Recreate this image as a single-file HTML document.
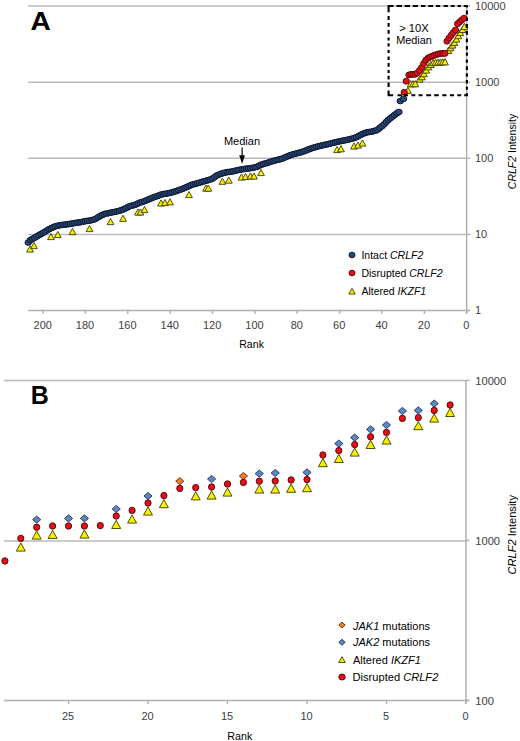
<!DOCTYPE html>
<html><head><meta charset="utf-8"><title>CRLF2 intensity rank plots</title>
<style>html,body{margin:0;padding:0;background:#fff;}svg{display:block;} text{font-family:"Liberation Sans",sans-serif;}</style>
</head><body>
<svg width="520" height="741" viewBox="0 0 520 741">
<rect x="0" y="0" width="520" height="741" fill="#fff"/>
<line x1="28.0" y1="6.1" x2="466.65" y2="6.1" stroke="#bababa" stroke-width="1.5"/>
<line x1="28.0" y1="82.2" x2="466.65" y2="82.2" stroke="#bababa" stroke-width="1.5"/>
<line x1="28.0" y1="158.3" x2="466.65" y2="158.3" stroke="#bababa" stroke-width="1.5"/>
<line x1="28.0" y1="234.4" x2="466.65" y2="234.4" stroke="#bababa" stroke-width="1.5"/>
<line x1="28.0" y1="310.5" x2="469.65" y2="310.5" stroke="#b0b0b0" stroke-width="1.5"/>
<line x1="466.65" y1="6.1" x2="466.65" y2="313.5" stroke="#b0b0b0" stroke-width="1.5"/>
<line x1="466.65" y1="6.1" x2="470.15" y2="6.1" stroke="#b0b0b0" stroke-width="1.4"/>
<text x="475" y="9.7" font-size="11" fill="#404040">10000</text>
<line x1="466.65" y1="82.2" x2="470.15" y2="82.2" stroke="#b0b0b0" stroke-width="1.4"/>
<text x="475" y="85.8" font-size="11" fill="#404040">1000</text>
<line x1="466.65" y1="158.3" x2="470.15" y2="158.3" stroke="#b0b0b0" stroke-width="1.4"/>
<text x="475" y="161.9" font-size="11" fill="#404040">100</text>
<line x1="466.65" y1="234.4" x2="470.15" y2="234.4" stroke="#b0b0b0" stroke-width="1.4"/>
<text x="475" y="238.0" font-size="11" fill="#404040">10</text>
<line x1="466.65" y1="310.5" x2="470.15" y2="310.5" stroke="#b0b0b0" stroke-width="1.4"/>
<text x="475" y="314.1" font-size="11" fill="#404040">1</text>
<line x1="466.6" y1="310.5" x2="466.6" y2="314.0" stroke="#b0b0b0" stroke-width="1.4"/>
<text x="466.2" y="328.8" font-size="11" fill="#404040" text-anchor="middle">0</text>
<line x1="424.3" y1="310.5" x2="424.3" y2="314.0" stroke="#b0b0b0" stroke-width="1.4"/>
<text x="423.9" y="328.8" font-size="11" fill="#404040" text-anchor="middle">20</text>
<line x1="381.9" y1="310.5" x2="381.9" y2="314.0" stroke="#b0b0b0" stroke-width="1.4"/>
<text x="381.5" y="328.8" font-size="11" fill="#404040" text-anchor="middle">40</text>
<line x1="339.6" y1="310.5" x2="339.6" y2="314.0" stroke="#b0b0b0" stroke-width="1.4"/>
<text x="339.2" y="328.8" font-size="11" fill="#404040" text-anchor="middle">60</text>
<line x1="297.2" y1="310.5" x2="297.2" y2="314.0" stroke="#b0b0b0" stroke-width="1.4"/>
<text x="296.8" y="328.8" font-size="11" fill="#404040" text-anchor="middle">80</text>
<line x1="254.9" y1="310.5" x2="254.9" y2="314.0" stroke="#b0b0b0" stroke-width="1.4"/>
<text x="254.5" y="328.8" font-size="11" fill="#404040" text-anchor="middle">100</text>
<line x1="212.5" y1="310.5" x2="212.5" y2="314.0" stroke="#b0b0b0" stroke-width="1.4"/>
<text x="212.1" y="328.8" font-size="11" fill="#404040" text-anchor="middle">120</text>
<line x1="170.2" y1="310.5" x2="170.2" y2="314.0" stroke="#b0b0b0" stroke-width="1.4"/>
<text x="169.8" y="328.8" font-size="11" fill="#404040" text-anchor="middle">140</text>
<line x1="127.8" y1="310.5" x2="127.8" y2="314.0" stroke="#b0b0b0" stroke-width="1.4"/>
<text x="127.4" y="328.8" font-size="11" fill="#404040" text-anchor="middle">160</text>
<line x1="85.4" y1="310.5" x2="85.4" y2="314.0" stroke="#b0b0b0" stroke-width="1.4"/>
<text x="85.0" y="328.8" font-size="11" fill="#404040" text-anchor="middle">180</text>
<line x1="43.1" y1="310.5" x2="43.1" y2="314.0" stroke="#b0b0b0" stroke-width="1.4"/>
<text x="42.7" y="328.8" font-size="11" fill="#404040" text-anchor="middle">200</text>
<text x="251.6" y="348.1" font-size="10.6" fill="#000" text-anchor="middle">Rank</text>
<text transform="translate(515.7,151.5) rotate(-90)" font-size="10.5" fill="#000" text-anchor="middle"><tspan font-style="italic">CRLF2</tspan> Intensity</text>
<text transform="translate(30.6,29.6) scale(1.1,1)" font-size="25.5" font-weight="bold" fill="#000">A</text>
<text x="242" y="144.5" font-size="11" fill="#000" text-anchor="middle">Median</text>
<line x1="242.1" y1="147.5" x2="242.1" y2="157" stroke="#000" stroke-width="1.2"/>
<path d="M239.2,155.2 L245,155.2 L242.1,163.8 Z" fill="#000"/>
<g>
<ellipse cx="28.3" cy="242.5" rx="3.3" ry="2.85" fill="#2b4a78" stroke="#0d1a33" stroke-width="1.0"/>
<ellipse cx="30.4" cy="240.1" rx="3.3" ry="2.85" fill="#2b4a78" stroke="#0d1a33" stroke-width="1.0"/>
<ellipse cx="32.5" cy="238.9" rx="3.3" ry="2.85" fill="#2b4a78" stroke="#0d1a33" stroke-width="1.0"/>
<ellipse cx="34.6" cy="237.7" rx="3.3" ry="2.85" fill="#2b4a78" stroke="#0d1a33" stroke-width="1.0"/>
<ellipse cx="36.7" cy="236.5" rx="3.3" ry="2.85" fill="#2b4a78" stroke="#0d1a33" stroke-width="1.0"/>
<ellipse cx="38.9" cy="235.2" rx="3.3" ry="2.85" fill="#2b4a78" stroke="#0d1a33" stroke-width="1.0"/>
<ellipse cx="41.0" cy="234.0" rx="3.3" ry="2.85" fill="#2b4a78" stroke="#0d1a33" stroke-width="1.0"/>
<ellipse cx="43.1" cy="232.8" rx="3.3" ry="2.85" fill="#2b4a78" stroke="#0d1a33" stroke-width="1.0"/>
<ellipse cx="45.2" cy="231.6" rx="3.3" ry="2.85" fill="#2b4a78" stroke="#0d1a33" stroke-width="1.0"/>
<ellipse cx="47.3" cy="230.3" rx="3.3" ry="2.85" fill="#2b4a78" stroke="#0d1a33" stroke-width="1.0"/>
<ellipse cx="49.4" cy="229.0" rx="3.3" ry="2.85" fill="#2b4a78" stroke="#0d1a33" stroke-width="1.0"/>
<ellipse cx="51.6" cy="228.0" rx="3.3" ry="2.85" fill="#2b4a78" stroke="#0d1a33" stroke-width="1.0"/>
<ellipse cx="53.7" cy="227.0" rx="3.3" ry="2.85" fill="#2b4a78" stroke="#0d1a33" stroke-width="1.0"/>
<ellipse cx="55.8" cy="226.2" rx="3.3" ry="2.85" fill="#2b4a78" stroke="#0d1a33" stroke-width="1.0"/>
<ellipse cx="57.9" cy="225.7" rx="3.3" ry="2.85" fill="#2b4a78" stroke="#0d1a33" stroke-width="1.0"/>
<ellipse cx="60.0" cy="225.2" rx="3.3" ry="2.85" fill="#2b4a78" stroke="#0d1a33" stroke-width="1.0"/>
<ellipse cx="62.2" cy="224.9" rx="3.3" ry="2.85" fill="#2b4a78" stroke="#0d1a33" stroke-width="1.0"/>
<ellipse cx="64.3" cy="224.7" rx="3.3" ry="2.85" fill="#2b4a78" stroke="#0d1a33" stroke-width="1.0"/>
<ellipse cx="66.4" cy="224.4" rx="3.3" ry="2.85" fill="#2b4a78" stroke="#0d1a33" stroke-width="1.0"/>
<ellipse cx="68.5" cy="224.1" rx="3.3" ry="2.85" fill="#2b4a78" stroke="#0d1a33" stroke-width="1.0"/>
<ellipse cx="70.6" cy="223.8" rx="3.3" ry="2.85" fill="#2b4a78" stroke="#0d1a33" stroke-width="1.0"/>
<ellipse cx="72.7" cy="223.4" rx="3.3" ry="2.85" fill="#2b4a78" stroke="#0d1a33" stroke-width="1.0"/>
<ellipse cx="74.9" cy="223.0" rx="3.3" ry="2.85" fill="#2b4a78" stroke="#0d1a33" stroke-width="1.0"/>
<ellipse cx="77.0" cy="222.7" rx="3.3" ry="2.85" fill="#2b4a78" stroke="#0d1a33" stroke-width="1.0"/>
<ellipse cx="79.1" cy="222.4" rx="3.3" ry="2.85" fill="#2b4a78" stroke="#0d1a33" stroke-width="1.0"/>
<ellipse cx="81.2" cy="222.1" rx="3.3" ry="2.85" fill="#2b4a78" stroke="#0d1a33" stroke-width="1.0"/>
<ellipse cx="83.3" cy="221.6" rx="3.3" ry="2.85" fill="#2b4a78" stroke="#0d1a33" stroke-width="1.0"/>
<ellipse cx="85.4" cy="221.2" rx="3.3" ry="2.85" fill="#2b4a78" stroke="#0d1a33" stroke-width="1.0"/>
<ellipse cx="87.6" cy="220.9" rx="3.3" ry="2.85" fill="#2b4a78" stroke="#0d1a33" stroke-width="1.0"/>
<ellipse cx="89.7" cy="220.6" rx="3.3" ry="2.85" fill="#2b4a78" stroke="#0d1a33" stroke-width="1.0"/>
<ellipse cx="91.8" cy="220.1" rx="3.3" ry="2.85" fill="#2b4a78" stroke="#0d1a33" stroke-width="1.0"/>
<ellipse cx="93.9" cy="219.6" rx="3.3" ry="2.85" fill="#2b4a78" stroke="#0d1a33" stroke-width="1.0"/>
<ellipse cx="96.0" cy="218.6" rx="3.3" ry="2.85" fill="#2b4a78" stroke="#0d1a33" stroke-width="1.0"/>
<ellipse cx="98.2" cy="217.2" rx="3.3" ry="2.85" fill="#2b4a78" stroke="#0d1a33" stroke-width="1.0"/>
<ellipse cx="100.3" cy="215.9" rx="3.3" ry="2.85" fill="#2b4a78" stroke="#0d1a33" stroke-width="1.0"/>
<ellipse cx="102.4" cy="214.9" rx="3.3" ry="2.85" fill="#2b4a78" stroke="#0d1a33" stroke-width="1.0"/>
<ellipse cx="104.5" cy="214.0" rx="3.3" ry="2.85" fill="#2b4a78" stroke="#0d1a33" stroke-width="1.0"/>
<ellipse cx="106.6" cy="213.5" rx="3.3" ry="2.85" fill="#2b4a78" stroke="#0d1a33" stroke-width="1.0"/>
<ellipse cx="108.7" cy="213.1" rx="3.3" ry="2.85" fill="#2b4a78" stroke="#0d1a33" stroke-width="1.0"/>
<ellipse cx="110.9" cy="212.6" rx="3.3" ry="2.85" fill="#2b4a78" stroke="#0d1a33" stroke-width="1.0"/>
<ellipse cx="113.0" cy="212.2" rx="3.3" ry="2.85" fill="#2b4a78" stroke="#0d1a33" stroke-width="1.0"/>
<ellipse cx="115.1" cy="211.8" rx="3.3" ry="2.85" fill="#2b4a78" stroke="#0d1a33" stroke-width="1.0"/>
<ellipse cx="117.2" cy="211.3" rx="3.3" ry="2.85" fill="#2b4a78" stroke="#0d1a33" stroke-width="1.0"/>
<ellipse cx="119.3" cy="210.8" rx="3.3" ry="2.85" fill="#2b4a78" stroke="#0d1a33" stroke-width="1.0"/>
<ellipse cx="121.4" cy="210.1" rx="3.3" ry="2.85" fill="#2b4a78" stroke="#0d1a33" stroke-width="1.0"/>
<ellipse cx="123.6" cy="209.3" rx="3.3" ry="2.85" fill="#2b4a78" stroke="#0d1a33" stroke-width="1.0"/>
<ellipse cx="125.7" cy="208.3" rx="3.3" ry="2.85" fill="#2b4a78" stroke="#0d1a33" stroke-width="1.0"/>
<ellipse cx="127.8" cy="207.2" rx="3.3" ry="2.85" fill="#2b4a78" stroke="#0d1a33" stroke-width="1.0"/>
<ellipse cx="129.9" cy="206.1" rx="3.3" ry="2.85" fill="#2b4a78" stroke="#0d1a33" stroke-width="1.0"/>
<ellipse cx="132.0" cy="205.6" rx="3.3" ry="2.85" fill="#2b4a78" stroke="#0d1a33" stroke-width="1.0"/>
<ellipse cx="134.2" cy="205.1" rx="3.3" ry="2.85" fill="#2b4a78" stroke="#0d1a33" stroke-width="1.0"/>
<ellipse cx="136.3" cy="204.3" rx="3.3" ry="2.85" fill="#2b4a78" stroke="#0d1a33" stroke-width="1.0"/>
<ellipse cx="138.4" cy="203.3" rx="3.3" ry="2.85" fill="#2b4a78" stroke="#0d1a33" stroke-width="1.0"/>
<ellipse cx="140.5" cy="202.4" rx="3.3" ry="2.85" fill="#2b4a78" stroke="#0d1a33" stroke-width="1.0"/>
<ellipse cx="142.6" cy="201.8" rx="3.3" ry="2.85" fill="#2b4a78" stroke="#0d1a33" stroke-width="1.0"/>
<ellipse cx="144.7" cy="201.1" rx="3.3" ry="2.85" fill="#2b4a78" stroke="#0d1a33" stroke-width="1.0"/>
<ellipse cx="146.9" cy="200.2" rx="3.3" ry="2.85" fill="#2b4a78" stroke="#0d1a33" stroke-width="1.0"/>
<ellipse cx="149.0" cy="199.2" rx="3.3" ry="2.85" fill="#2b4a78" stroke="#0d1a33" stroke-width="1.0"/>
<ellipse cx="151.1" cy="198.4" rx="3.3" ry="2.85" fill="#2b4a78" stroke="#0d1a33" stroke-width="1.0"/>
<ellipse cx="153.2" cy="197.5" rx="3.3" ry="2.85" fill="#2b4a78" stroke="#0d1a33" stroke-width="1.0"/>
<ellipse cx="155.3" cy="196.7" rx="3.3" ry="2.85" fill="#2b4a78" stroke="#0d1a33" stroke-width="1.0"/>
<ellipse cx="157.5" cy="196.0" rx="3.3" ry="2.85" fill="#2b4a78" stroke="#0d1a33" stroke-width="1.0"/>
<ellipse cx="159.6" cy="195.2" rx="3.3" ry="2.85" fill="#2b4a78" stroke="#0d1a33" stroke-width="1.0"/>
<ellipse cx="161.7" cy="194.4" rx="3.3" ry="2.85" fill="#2b4a78" stroke="#0d1a33" stroke-width="1.0"/>
<ellipse cx="163.8" cy="194.0" rx="3.3" ry="2.85" fill="#2b4a78" stroke="#0d1a33" stroke-width="1.0"/>
<ellipse cx="165.9" cy="193.7" rx="3.3" ry="2.85" fill="#2b4a78" stroke="#0d1a33" stroke-width="1.0"/>
<ellipse cx="168.0" cy="193.3" rx="3.3" ry="2.85" fill="#2b4a78" stroke="#0d1a33" stroke-width="1.0"/>
<ellipse cx="170.2" cy="192.8" rx="3.3" ry="2.85" fill="#2b4a78" stroke="#0d1a33" stroke-width="1.0"/>
<ellipse cx="172.3" cy="192.3" rx="3.3" ry="2.85" fill="#2b4a78" stroke="#0d1a33" stroke-width="1.0"/>
<ellipse cx="174.4" cy="191.6" rx="3.3" ry="2.85" fill="#2b4a78" stroke="#0d1a33" stroke-width="1.0"/>
<ellipse cx="176.5" cy="191.0" rx="3.3" ry="2.85" fill="#2b4a78" stroke="#0d1a33" stroke-width="1.0"/>
<ellipse cx="178.6" cy="190.2" rx="3.3" ry="2.85" fill="#2b4a78" stroke="#0d1a33" stroke-width="1.0"/>
<ellipse cx="180.7" cy="189.5" rx="3.3" ry="2.85" fill="#2b4a78" stroke="#0d1a33" stroke-width="1.0"/>
<ellipse cx="182.9" cy="188.7" rx="3.3" ry="2.85" fill="#2b4a78" stroke="#0d1a33" stroke-width="1.0"/>
<ellipse cx="185.0" cy="187.8" rx="3.3" ry="2.85" fill="#2b4a78" stroke="#0d1a33" stroke-width="1.0"/>
<ellipse cx="187.1" cy="186.9" rx="3.3" ry="2.85" fill="#2b4a78" stroke="#0d1a33" stroke-width="1.0"/>
<ellipse cx="189.2" cy="185.9" rx="3.3" ry="2.85" fill="#2b4a78" stroke="#0d1a33" stroke-width="1.0"/>
<ellipse cx="191.3" cy="185.0" rx="3.3" ry="2.85" fill="#2b4a78" stroke="#0d1a33" stroke-width="1.0"/>
<ellipse cx="193.5" cy="184.3" rx="3.3" ry="2.85" fill="#2b4a78" stroke="#0d1a33" stroke-width="1.0"/>
<ellipse cx="195.6" cy="183.8" rx="3.3" ry="2.85" fill="#2b4a78" stroke="#0d1a33" stroke-width="1.0"/>
<ellipse cx="197.7" cy="183.2" rx="3.3" ry="2.85" fill="#2b4a78" stroke="#0d1a33" stroke-width="1.0"/>
<ellipse cx="199.8" cy="182.6" rx="3.3" ry="2.85" fill="#2b4a78" stroke="#0d1a33" stroke-width="1.0"/>
<ellipse cx="201.9" cy="181.9" rx="3.3" ry="2.85" fill="#2b4a78" stroke="#0d1a33" stroke-width="1.0"/>
<ellipse cx="204.0" cy="181.3" rx="3.3" ry="2.85" fill="#2b4a78" stroke="#0d1a33" stroke-width="1.0"/>
<ellipse cx="206.2" cy="180.7" rx="3.3" ry="2.85" fill="#2b4a78" stroke="#0d1a33" stroke-width="1.0"/>
<ellipse cx="208.3" cy="180.1" rx="3.3" ry="2.85" fill="#2b4a78" stroke="#0d1a33" stroke-width="1.0"/>
<ellipse cx="210.4" cy="179.5" rx="3.3" ry="2.85" fill="#2b4a78" stroke="#0d1a33" stroke-width="1.0"/>
<ellipse cx="212.5" cy="178.6" rx="3.3" ry="2.85" fill="#2b4a78" stroke="#0d1a33" stroke-width="1.0"/>
<ellipse cx="214.6" cy="177.1" rx="3.3" ry="2.85" fill="#2b4a78" stroke="#0d1a33" stroke-width="1.0"/>
<ellipse cx="216.7" cy="175.5" rx="3.3" ry="2.85" fill="#2b4a78" stroke="#0d1a33" stroke-width="1.0"/>
<ellipse cx="218.9" cy="174.6" rx="3.3" ry="2.85" fill="#2b4a78" stroke="#0d1a33" stroke-width="1.0"/>
<ellipse cx="221.0" cy="173.8" rx="3.3" ry="2.85" fill="#2b4a78" stroke="#0d1a33" stroke-width="1.0"/>
<ellipse cx="223.1" cy="173.1" rx="3.3" ry="2.85" fill="#2b4a78" stroke="#0d1a33" stroke-width="1.0"/>
<ellipse cx="225.2" cy="172.6" rx="3.3" ry="2.85" fill="#2b4a78" stroke="#0d1a33" stroke-width="1.0"/>
<ellipse cx="227.3" cy="172.1" rx="3.3" ry="2.85" fill="#2b4a78" stroke="#0d1a33" stroke-width="1.0"/>
<ellipse cx="229.5" cy="171.9" rx="3.3" ry="2.85" fill="#2b4a78" stroke="#0d1a33" stroke-width="1.0"/>
<ellipse cx="231.6" cy="171.6" rx="3.3" ry="2.85" fill="#2b4a78" stroke="#0d1a33" stroke-width="1.0"/>
<ellipse cx="233.7" cy="171.2" rx="3.3" ry="2.85" fill="#2b4a78" stroke="#0d1a33" stroke-width="1.0"/>
<ellipse cx="235.8" cy="170.6" rx="3.3" ry="2.85" fill="#2b4a78" stroke="#0d1a33" stroke-width="1.0"/>
<ellipse cx="237.9" cy="170.1" rx="3.3" ry="2.85" fill="#2b4a78" stroke="#0d1a33" stroke-width="1.0"/>
<ellipse cx="240.0" cy="169.7" rx="3.3" ry="2.85" fill="#2b4a78" stroke="#0d1a33" stroke-width="1.0"/>
<ellipse cx="242.2" cy="169.3" rx="3.3" ry="2.85" fill="#2b4a78" stroke="#0d1a33" stroke-width="1.0"/>
<ellipse cx="244.3" cy="169.0" rx="3.3" ry="2.85" fill="#2b4a78" stroke="#0d1a33" stroke-width="1.0"/>
<ellipse cx="246.4" cy="168.7" rx="3.3" ry="2.85" fill="#2b4a78" stroke="#0d1a33" stroke-width="1.0"/>
<ellipse cx="248.5" cy="168.4" rx="3.3" ry="2.85" fill="#2b4a78" stroke="#0d1a33" stroke-width="1.0"/>
<ellipse cx="250.6" cy="168.2" rx="3.3" ry="2.85" fill="#2b4a78" stroke="#0d1a33" stroke-width="1.0"/>
<ellipse cx="252.8" cy="167.8" rx="3.3" ry="2.85" fill="#2b4a78" stroke="#0d1a33" stroke-width="1.0"/>
<ellipse cx="254.9" cy="167.3" rx="3.3" ry="2.85" fill="#2b4a78" stroke="#0d1a33" stroke-width="1.0"/>
<ellipse cx="257.0" cy="166.8" rx="3.3" ry="2.85" fill="#2b4a78" stroke="#0d1a33" stroke-width="1.0"/>
<ellipse cx="259.1" cy="165.7" rx="3.3" ry="2.85" fill="#2b4a78" stroke="#0d1a33" stroke-width="1.0"/>
<ellipse cx="261.2" cy="164.7" rx="3.3" ry="2.85" fill="#2b4a78" stroke="#0d1a33" stroke-width="1.0"/>
<ellipse cx="263.3" cy="164.0" rx="3.3" ry="2.85" fill="#2b4a78" stroke="#0d1a33" stroke-width="1.0"/>
<ellipse cx="265.5" cy="163.4" rx="3.3" ry="2.85" fill="#2b4a78" stroke="#0d1a33" stroke-width="1.0"/>
<ellipse cx="267.6" cy="162.8" rx="3.3" ry="2.85" fill="#2b4a78" stroke="#0d1a33" stroke-width="1.0"/>
<ellipse cx="269.7" cy="162.1" rx="3.3" ry="2.85" fill="#2b4a78" stroke="#0d1a33" stroke-width="1.0"/>
<ellipse cx="271.8" cy="161.4" rx="3.3" ry="2.85" fill="#2b4a78" stroke="#0d1a33" stroke-width="1.0"/>
<ellipse cx="273.9" cy="160.8" rx="3.3" ry="2.85" fill="#2b4a78" stroke="#0d1a33" stroke-width="1.0"/>
<ellipse cx="276.0" cy="160.2" rx="3.3" ry="2.85" fill="#2b4a78" stroke="#0d1a33" stroke-width="1.0"/>
<ellipse cx="278.2" cy="159.7" rx="3.3" ry="2.85" fill="#2b4a78" stroke="#0d1a33" stroke-width="1.0"/>
<ellipse cx="280.3" cy="159.2" rx="3.3" ry="2.85" fill="#2b4a78" stroke="#0d1a33" stroke-width="1.0"/>
<ellipse cx="282.4" cy="158.6" rx="3.3" ry="2.85" fill="#2b4a78" stroke="#0d1a33" stroke-width="1.0"/>
<ellipse cx="284.5" cy="157.6" rx="3.3" ry="2.85" fill="#2b4a78" stroke="#0d1a33" stroke-width="1.0"/>
<ellipse cx="286.6" cy="156.7" rx="3.3" ry="2.85" fill="#2b4a78" stroke="#0d1a33" stroke-width="1.0"/>
<ellipse cx="288.8" cy="155.8" rx="3.3" ry="2.85" fill="#2b4a78" stroke="#0d1a33" stroke-width="1.0"/>
<ellipse cx="290.9" cy="155.0" rx="3.3" ry="2.85" fill="#2b4a78" stroke="#0d1a33" stroke-width="1.0"/>
<ellipse cx="293.0" cy="154.3" rx="3.3" ry="2.85" fill="#2b4a78" stroke="#0d1a33" stroke-width="1.0"/>
<ellipse cx="295.1" cy="153.8" rx="3.3" ry="2.85" fill="#2b4a78" stroke="#0d1a33" stroke-width="1.0"/>
<ellipse cx="297.2" cy="153.2" rx="3.3" ry="2.85" fill="#2b4a78" stroke="#0d1a33" stroke-width="1.0"/>
<ellipse cx="299.3" cy="152.7" rx="3.3" ry="2.85" fill="#2b4a78" stroke="#0d1a33" stroke-width="1.0"/>
<ellipse cx="301.5" cy="152.1" rx="3.3" ry="2.85" fill="#2b4a78" stroke="#0d1a33" stroke-width="1.0"/>
<ellipse cx="303.6" cy="151.4" rx="3.3" ry="2.85" fill="#2b4a78" stroke="#0d1a33" stroke-width="1.0"/>
<ellipse cx="305.7" cy="150.5" rx="3.3" ry="2.85" fill="#2b4a78" stroke="#0d1a33" stroke-width="1.0"/>
<ellipse cx="307.8" cy="149.7" rx="3.3" ry="2.85" fill="#2b4a78" stroke="#0d1a33" stroke-width="1.0"/>
<ellipse cx="309.9" cy="148.9" rx="3.3" ry="2.85" fill="#2b4a78" stroke="#0d1a33" stroke-width="1.0"/>
<ellipse cx="312.1" cy="148.1" rx="3.3" ry="2.85" fill="#2b4a78" stroke="#0d1a33" stroke-width="1.0"/>
<ellipse cx="314.2" cy="147.5" rx="3.3" ry="2.85" fill="#2b4a78" stroke="#0d1a33" stroke-width="1.0"/>
<ellipse cx="316.3" cy="146.9" rx="3.3" ry="2.85" fill="#2b4a78" stroke="#0d1a33" stroke-width="1.0"/>
<ellipse cx="318.4" cy="146.3" rx="3.3" ry="2.85" fill="#2b4a78" stroke="#0d1a33" stroke-width="1.0"/>
<ellipse cx="320.5" cy="145.8" rx="3.3" ry="2.85" fill="#2b4a78" stroke="#0d1a33" stroke-width="1.0"/>
<ellipse cx="322.6" cy="145.3" rx="3.3" ry="2.85" fill="#2b4a78" stroke="#0d1a33" stroke-width="1.0"/>
<ellipse cx="324.8" cy="144.8" rx="3.3" ry="2.85" fill="#2b4a78" stroke="#0d1a33" stroke-width="1.0"/>
<ellipse cx="326.9" cy="144.4" rx="3.3" ry="2.85" fill="#2b4a78" stroke="#0d1a33" stroke-width="1.0"/>
<ellipse cx="329.0" cy="143.9" rx="3.3" ry="2.85" fill="#2b4a78" stroke="#0d1a33" stroke-width="1.0"/>
<ellipse cx="331.1" cy="143.3" rx="3.3" ry="2.85" fill="#2b4a78" stroke="#0d1a33" stroke-width="1.0"/>
<ellipse cx="333.2" cy="142.8" rx="3.3" ry="2.85" fill="#2b4a78" stroke="#0d1a33" stroke-width="1.0"/>
<ellipse cx="335.3" cy="142.3" rx="3.3" ry="2.85" fill="#2b4a78" stroke="#0d1a33" stroke-width="1.0"/>
<ellipse cx="337.5" cy="141.8" rx="3.3" ry="2.85" fill="#2b4a78" stroke="#0d1a33" stroke-width="1.0"/>
<ellipse cx="339.6" cy="141.3" rx="3.3" ry="2.85" fill="#2b4a78" stroke="#0d1a33" stroke-width="1.0"/>
<ellipse cx="341.7" cy="140.9" rx="3.3" ry="2.85" fill="#2b4a78" stroke="#0d1a33" stroke-width="1.0"/>
<ellipse cx="343.8" cy="140.5" rx="3.3" ry="2.85" fill="#2b4a78" stroke="#0d1a33" stroke-width="1.0"/>
<ellipse cx="345.9" cy="140.1" rx="3.3" ry="2.85" fill="#2b4a78" stroke="#0d1a33" stroke-width="1.0"/>
<ellipse cx="348.1" cy="139.6" rx="3.3" ry="2.85" fill="#2b4a78" stroke="#0d1a33" stroke-width="1.0"/>
<ellipse cx="350.2" cy="139.1" rx="3.3" ry="2.85" fill="#2b4a78" stroke="#0d1a33" stroke-width="1.0"/>
<ellipse cx="352.3" cy="138.6" rx="3.3" ry="2.85" fill="#2b4a78" stroke="#0d1a33" stroke-width="1.0"/>
<ellipse cx="354.4" cy="137.9" rx="3.3" ry="2.85" fill="#2b4a78" stroke="#0d1a33" stroke-width="1.0"/>
<ellipse cx="356.5" cy="137.2" rx="3.3" ry="2.85" fill="#2b4a78" stroke="#0d1a33" stroke-width="1.0"/>
<ellipse cx="358.6" cy="136.0" rx="3.3" ry="2.85" fill="#2b4a78" stroke="#0d1a33" stroke-width="1.0"/>
<ellipse cx="360.8" cy="134.8" rx="3.3" ry="2.85" fill="#2b4a78" stroke="#0d1a33" stroke-width="1.0"/>
<ellipse cx="362.9" cy="133.8" rx="3.3" ry="2.85" fill="#2b4a78" stroke="#0d1a33" stroke-width="1.0"/>
<ellipse cx="365.0" cy="133.0" rx="3.3" ry="2.85" fill="#2b4a78" stroke="#0d1a33" stroke-width="1.0"/>
<ellipse cx="367.1" cy="132.3" rx="3.3" ry="2.85" fill="#2b4a78" stroke="#0d1a33" stroke-width="1.0"/>
<ellipse cx="369.2" cy="132.0" rx="3.3" ry="2.85" fill="#2b4a78" stroke="#0d1a33" stroke-width="1.0"/>
<ellipse cx="371.3" cy="131.7" rx="3.3" ry="2.85" fill="#2b4a78" stroke="#0d1a33" stroke-width="1.0"/>
<ellipse cx="373.5" cy="131.2" rx="3.3" ry="2.85" fill="#2b4a78" stroke="#0d1a33" stroke-width="1.0"/>
<ellipse cx="375.6" cy="130.6" rx="3.3" ry="2.85" fill="#2b4a78" stroke="#0d1a33" stroke-width="1.0"/>
<ellipse cx="377.7" cy="129.6" rx="3.3" ry="2.85" fill="#2b4a78" stroke="#0d1a33" stroke-width="1.0"/>
<ellipse cx="379.8" cy="127.9" rx="3.3" ry="2.85" fill="#2b4a78" stroke="#0d1a33" stroke-width="1.0"/>
<ellipse cx="381.9" cy="126.2" rx="3.3" ry="2.85" fill="#2b4a78" stroke="#0d1a33" stroke-width="1.0"/>
<ellipse cx="384.1" cy="124.3" rx="3.3" ry="2.85" fill="#2b4a78" stroke="#0d1a33" stroke-width="1.0"/>
<ellipse cx="386.2" cy="122.0" rx="3.3" ry="2.85" fill="#2b4a78" stroke="#0d1a33" stroke-width="1.0"/>
<ellipse cx="388.3" cy="119.9" rx="3.3" ry="2.85" fill="#2b4a78" stroke="#0d1a33" stroke-width="1.0"/>
<ellipse cx="390.4" cy="118.2" rx="3.3" ry="2.85" fill="#2b4a78" stroke="#0d1a33" stroke-width="1.0"/>
<ellipse cx="392.5" cy="116.6" rx="3.3" ry="2.85" fill="#2b4a78" stroke="#0d1a33" stroke-width="1.0"/>
<ellipse cx="394.6" cy="115.0" rx="3.3" ry="2.85" fill="#2b4a78" stroke="#0d1a33" stroke-width="1.0"/>
<ellipse cx="396.8" cy="113.3" rx="3.3" ry="2.85" fill="#2b4a78" stroke="#0d1a33" stroke-width="1.0"/>
<ellipse cx="398.9" cy="112.0" rx="3.3" ry="2.85" fill="#2b4a78" stroke="#0d1a33" stroke-width="1.0"/>
<ellipse cx="400.3" cy="101.0" rx="3.3" ry="2.85" fill="#2b4a78" stroke="#0d1a33" stroke-width="1.0"/>
<ellipse cx="403.5" cy="98.8" rx="3.3" ry="2.85" fill="#2b4a78" stroke="#0d1a33" stroke-width="1.0"/>
</g>
<g>
<path d="M30.0,245.9 L33.4,252.1 L26.6,252.1 Z" fill="#f4f000" stroke="#3e3c00" stroke-width="0.9" stroke-linejoin="miter"/>
<path d="M34.0,242.4 L37.4,248.6 L30.6,248.6 Z" fill="#f4f000" stroke="#3e3c00" stroke-width="0.9" stroke-linejoin="miter"/>
<path d="M51.0,233.4 L54.4,239.6 L47.6,239.6 Z" fill="#f4f000" stroke="#3e3c00" stroke-width="0.9" stroke-linejoin="miter"/>
<path d="M57.8,231.4 L61.2,237.6 L54.4,237.6 Z" fill="#f4f000" stroke="#3e3c00" stroke-width="0.9" stroke-linejoin="miter"/>
<path d="M72.5,228.4 L75.9,234.6 L69.1,234.6 Z" fill="#f4f000" stroke="#3e3c00" stroke-width="0.9" stroke-linejoin="miter"/>
<path d="M89.5,225.4 L92.9,231.6 L86.1,231.6 Z" fill="#f4f000" stroke="#3e3c00" stroke-width="0.9" stroke-linejoin="miter"/>
<path d="M110.5,218.4 L113.9,224.6 L107.1,224.6 Z" fill="#f4f000" stroke="#3e3c00" stroke-width="0.9" stroke-linejoin="miter"/>
<path d="M123.0,215.2 L126.4,221.4 L119.6,221.4 Z" fill="#f4f000" stroke="#3e3c00" stroke-width="0.9" stroke-linejoin="miter"/>
<path d="M138.0,208.9 L141.4,215.1 L134.6,215.1 Z" fill="#f4f000" stroke="#3e3c00" stroke-width="0.9" stroke-linejoin="miter"/>
<path d="M140.5,208.9 L143.9,215.1 L137.1,215.1 Z" fill="#f4f000" stroke="#3e3c00" stroke-width="0.9" stroke-linejoin="miter"/>
<path d="M144.5,206.4 L147.9,212.6 L141.1,212.6 Z" fill="#f4f000" stroke="#3e3c00" stroke-width="0.9" stroke-linejoin="miter"/>
<path d="M161.0,199.9 L164.4,206.1 L157.6,206.1 Z" fill="#f4f000" stroke="#3e3c00" stroke-width="0.9" stroke-linejoin="miter"/>
<path d="M165.0,199.4 L168.4,205.6 L161.6,205.6 Z" fill="#f4f000" stroke="#3e3c00" stroke-width="0.9" stroke-linejoin="miter"/>
<path d="M170.0,198.7 L173.4,204.9 L166.6,204.9 Z" fill="#f4f000" stroke="#3e3c00" stroke-width="0.9" stroke-linejoin="miter"/>
<path d="M189.0,191.4 L192.4,197.6 L185.6,197.6 Z" fill="#f4f000" stroke="#3e3c00" stroke-width="0.9" stroke-linejoin="miter"/>
<path d="M206.0,185.0 L209.4,191.2 L202.6,191.2 Z" fill="#f4f000" stroke="#3e3c00" stroke-width="0.9" stroke-linejoin="miter"/>
<path d="M208.3,185.0 L211.7,191.2 L204.9,191.2 Z" fill="#f4f000" stroke="#3e3c00" stroke-width="0.9" stroke-linejoin="miter"/>
<path d="M222.4,178.1 L225.8,184.3 L219.0,184.3 Z" fill="#f4f000" stroke="#3e3c00" stroke-width="0.9" stroke-linejoin="miter"/>
<path d="M228.8,177.0 L232.2,183.2 L225.4,183.2 Z" fill="#f4f000" stroke="#3e3c00" stroke-width="0.9" stroke-linejoin="miter"/>
<path d="M241.5,173.9 L244.9,180.1 L238.1,180.1 Z" fill="#f4f000" stroke="#3e3c00" stroke-width="0.9" stroke-linejoin="miter"/>
<path d="M245.5,173.4 L248.9,179.6 L242.1,179.6 Z" fill="#f4f000" stroke="#3e3c00" stroke-width="0.9" stroke-linejoin="miter"/>
<path d="M250.5,172.9 L253.9,179.1 L247.1,179.1 Z" fill="#f4f000" stroke="#3e3c00" stroke-width="0.9" stroke-linejoin="miter"/>
<path d="M254.0,172.9 L257.4,179.1 L250.6,179.1 Z" fill="#f4f000" stroke="#3e3c00" stroke-width="0.9" stroke-linejoin="miter"/>
<path d="M261.0,169.4 L264.4,175.6 L257.6,175.6 Z" fill="#f4f000" stroke="#3e3c00" stroke-width="0.9" stroke-linejoin="miter"/>
<path d="M337.0,146.4 L340.4,152.6 L333.6,152.6 Z" fill="#f4f000" stroke="#3e3c00" stroke-width="0.9" stroke-linejoin="miter"/>
<path d="M341.0,145.6 L344.4,151.8 L337.6,151.8 Z" fill="#f4f000" stroke="#3e3c00" stroke-width="0.9" stroke-linejoin="miter"/>
<path d="M354.0,142.9 L357.4,149.1 L350.6,149.1 Z" fill="#f4f000" stroke="#3e3c00" stroke-width="0.9" stroke-linejoin="miter"/>
<path d="M358.0,141.9 L361.4,148.1 L354.6,148.1 Z" fill="#f4f000" stroke="#3e3c00" stroke-width="0.9" stroke-linejoin="miter"/>
<path d="M362.5,139.9 L365.9,146.1 L359.1,146.1 Z" fill="#f4f000" stroke="#3e3c00" stroke-width="0.9" stroke-linejoin="miter"/>
<path d="M408.0,87.2 L411.4,93.4 L404.6,93.4 Z" fill="#f4f000" stroke="#3e3c00" stroke-width="0.9" stroke-linejoin="miter"/>
<path d="M410.7,80.6 L414.1,86.8 L407.3,86.8 Z" fill="#f4f000" stroke="#3e3c00" stroke-width="0.9" stroke-linejoin="miter"/>
<path d="M413.0,80.6 L416.4,86.8 L409.6,86.8 Z" fill="#f4f000" stroke="#3e3c00" stroke-width="0.9" stroke-linejoin="miter"/>
<path d="M415.3,80.6 L418.7,86.8 L411.9,86.8 Z" fill="#f4f000" stroke="#3e3c00" stroke-width="0.9" stroke-linejoin="miter"/>
<path d="M419.6,75.9 L423.0,82.1 L416.2,82.1 Z" fill="#f4f000" stroke="#3e3c00" stroke-width="0.9" stroke-linejoin="miter"/>
<path d="M422.0,73.6 L425.4,79.8 L418.6,79.8 Z" fill="#f4f000" stroke="#3e3c00" stroke-width="0.9" stroke-linejoin="miter"/>
<path d="M424.0,70.5 L427.4,76.7 L420.6,76.7 Z" fill="#f4f000" stroke="#3e3c00" stroke-width="0.9" stroke-linejoin="miter"/>
<path d="M426.2,66.9 L429.6,73.1 L422.8,73.1 Z" fill="#f4f000" stroke="#3e3c00" stroke-width="0.9" stroke-linejoin="miter"/>
<path d="M428.5,63.7 L431.9,69.9 L425.1,69.9 Z" fill="#f4f000" stroke="#3e3c00" stroke-width="0.9" stroke-linejoin="miter"/>
<path d="M430.8,61.3 L434.2,67.5 L427.4,67.5 Z" fill="#f4f000" stroke="#3e3c00" stroke-width="0.9" stroke-linejoin="miter"/>
<path d="M433.2,59.5 L436.6,65.7 L429.8,65.7 Z" fill="#f4f000" stroke="#3e3c00" stroke-width="0.9" stroke-linejoin="miter"/>
<path d="M435.6,59.2 L439.0,65.4 L432.2,65.4 Z" fill="#f4f000" stroke="#3e3c00" stroke-width="0.9" stroke-linejoin="miter"/>
<path d="M438.0,59.0 L441.4,65.2 L434.6,65.2 Z" fill="#f4f000" stroke="#3e3c00" stroke-width="0.9" stroke-linejoin="miter"/>
<path d="M440.4,58.9 L443.8,65.1 L437.0,65.1 Z" fill="#f4f000" stroke="#3e3c00" stroke-width="0.9" stroke-linejoin="miter"/>
<path d="M442.8,58.7 L446.2,64.9 L439.4,64.9 Z" fill="#f4f000" stroke="#3e3c00" stroke-width="0.9" stroke-linejoin="miter"/>
<path d="M445.0,58.7 L448.4,64.9 L441.6,64.9 Z" fill="#f4f000" stroke="#3e3c00" stroke-width="0.9" stroke-linejoin="miter"/>
<path d="M448.4,47.3 L451.8,53.5 L445.0,53.5 Z" fill="#f4f000" stroke="#3e3c00" stroke-width="0.9" stroke-linejoin="miter"/>
<path d="M450.6,44.5 L454.0,50.7 L447.2,50.7 Z" fill="#f4f000" stroke="#3e3c00" stroke-width="0.9" stroke-linejoin="miter"/>
<path d="M452.5,41.9 L455.9,48.1 L449.1,48.1 Z" fill="#f4f000" stroke="#3e3c00" stroke-width="0.9" stroke-linejoin="miter"/>
<path d="M454.4,39.3 L457.8,45.5 L451.0,45.5 Z" fill="#f4f000" stroke="#3e3c00" stroke-width="0.9" stroke-linejoin="miter"/>
<path d="M456.4,35.9 L459.8,42.1 L453.0,42.1 Z" fill="#f4f000" stroke="#3e3c00" stroke-width="0.9" stroke-linejoin="miter"/>
<path d="M458.4,32.5 L461.8,38.7 L455.0,38.7 Z" fill="#f4f000" stroke="#3e3c00" stroke-width="0.9" stroke-linejoin="miter"/>
<path d="M460.4,29.4 L463.8,35.6 L457.0,35.6 Z" fill="#f4f000" stroke="#3e3c00" stroke-width="0.9" stroke-linejoin="miter"/>
<path d="M462.6,26.3 L466.0,32.5 L459.2,32.5 Z" fill="#f4f000" stroke="#3e3c00" stroke-width="0.9" stroke-linejoin="miter"/>
<path d="M464.4,23.3 L467.8,29.5 L461.0,29.5 Z" fill="#f4f000" stroke="#3e3c00" stroke-width="0.9" stroke-linejoin="miter"/>
</g>
<g>
<ellipse cx="404.2" cy="92.3" rx="3.1" ry="2.95" fill="#e3101c" stroke="#600808" stroke-width="1.0"/>
<ellipse cx="406.2" cy="81.2" rx="3.1" ry="2.95" fill="#e3101c" stroke="#600808" stroke-width="1.0"/>
<ellipse cx="408.9" cy="75.0" rx="3.1" ry="2.95" fill="#e3101c" stroke="#600808" stroke-width="1.0"/>
<ellipse cx="411.0" cy="74.4" rx="3.1" ry="2.95" fill="#e3101c" stroke="#600808" stroke-width="1.0"/>
<ellipse cx="413.1" cy="74.4" rx="3.1" ry="2.95" fill="#e3101c" stroke="#600808" stroke-width="1.0"/>
<ellipse cx="415.2" cy="74.2" rx="3.1" ry="2.95" fill="#e3101c" stroke="#600808" stroke-width="1.0"/>
<ellipse cx="417.3" cy="73.0" rx="3.1" ry="2.95" fill="#e3101c" stroke="#600808" stroke-width="1.0"/>
<ellipse cx="419.5" cy="70.5" rx="3.1" ry="2.95" fill="#e3101c" stroke="#600808" stroke-width="1.0"/>
<ellipse cx="421.6" cy="67.5" rx="3.1" ry="2.95" fill="#e3101c" stroke="#600808" stroke-width="1.0"/>
<ellipse cx="423.7" cy="63.5" rx="3.1" ry="2.95" fill="#e3101c" stroke="#600808" stroke-width="1.0"/>
<ellipse cx="425.8" cy="60.2" rx="3.1" ry="2.95" fill="#e3101c" stroke="#600808" stroke-width="1.0"/>
<ellipse cx="427.9" cy="58.2" rx="3.1" ry="2.95" fill="#e3101c" stroke="#600808" stroke-width="1.0"/>
<ellipse cx="430.0" cy="57.0" rx="3.1" ry="2.95" fill="#e3101c" stroke="#600808" stroke-width="1.0"/>
<ellipse cx="432.2" cy="56.1" rx="3.1" ry="2.95" fill="#e3101c" stroke="#600808" stroke-width="1.0"/>
<ellipse cx="434.3" cy="55.3" rx="3.1" ry="2.95" fill="#e3101c" stroke="#600808" stroke-width="1.0"/>
<ellipse cx="436.4" cy="54.6" rx="3.1" ry="2.95" fill="#e3101c" stroke="#600808" stroke-width="1.0"/>
<ellipse cx="438.5" cy="54.0" rx="3.1" ry="2.95" fill="#e3101c" stroke="#600808" stroke-width="1.0"/>
<ellipse cx="440.6" cy="53.5" rx="3.1" ry="2.95" fill="#e3101c" stroke="#600808" stroke-width="1.0"/>
<ellipse cx="442.8" cy="53.4" rx="3.1" ry="2.95" fill="#e3101c" stroke="#600808" stroke-width="1.0"/>
<ellipse cx="444.9" cy="53.4" rx="3.1" ry="2.95" fill="#e3101c" stroke="#600808" stroke-width="1.0"/>
<ellipse cx="447.0" cy="41.2" rx="3.1" ry="2.95" fill="#e3101c" stroke="#600808" stroke-width="1.0"/>
<ellipse cx="449.1" cy="38.0" rx="3.1" ry="2.95" fill="#e3101c" stroke="#600808" stroke-width="1.0"/>
<ellipse cx="451.2" cy="35.3" rx="3.1" ry="2.95" fill="#e3101c" stroke="#600808" stroke-width="1.0"/>
<ellipse cx="453.3" cy="32.5" rx="3.1" ry="2.95" fill="#e3101c" stroke="#600808" stroke-width="1.0"/>
<ellipse cx="455.5" cy="30.0" rx="3.1" ry="2.95" fill="#e3101c" stroke="#600808" stroke-width="1.0"/>
<ellipse cx="457.6" cy="23.8" rx="3.1" ry="2.95" fill="#e3101c" stroke="#600808" stroke-width="1.0"/>
<ellipse cx="459.7" cy="21.8" rx="3.1" ry="2.95" fill="#e3101c" stroke="#600808" stroke-width="1.0"/>
<ellipse cx="461.8" cy="20.0" rx="3.1" ry="2.95" fill="#e3101c" stroke="#600808" stroke-width="1.0"/>
<ellipse cx="463.9" cy="18.2" rx="3.1" ry="2.95" fill="#e3101c" stroke="#600808" stroke-width="1.0"/>
</g>
<path d="M387.6,6.0H393.5M396.5,6.0H402M404.6,6.0H410M412.7,6.0H418M421,6.0H425.3M428.2,6.0H433M435.9,6.0H440.2M443.6,6.0H447.9M450.8,6.0H454.6M457.5,6.0H460.9M463.75,6.0H467.9M387.6,95.3H393.1M397.5,95.3H401.8M404.2,95.3H408M411.4,95.3H415.25M418.6,95.3H422.5M426.3,95.3H431.1M434.2,95.3H438.8M442.3,95.3H446.5M449.8,95.3H454M457.3,95.3H461.2M464.2,95.3H467.9M388.6,5.0V12.2M388.6,15.9V19.9M388.6,23V26.7M388.6,30V33.8M388.6,37.5V40.5M388.6,43.2V46.6M388.6,50V53.1M388.6,56.5V59.9M388.6,62.9V66.7M388.6,70V73.1M388.6,75.7V79.5M388.6,82.5V87M388.6,90.4V96.3M466.9,5.0V7.4M466.9,10.6V14.4M466.9,17.3V21.0M466.9,24.0V28.0M466.9,31V34.7M466.9,38.5V42.3M466.9,46V49.8M466.9,52.4V55.7M466.9,59.4V62.8M466.9,66.2V69.9M466.9,73.3V76.7M466.9,80V83.4M466.9,86.8V89.8M466.9,93.2V96.3" stroke="#000" stroke-width="2.1" fill="none"/>
<text x="414" y="32" font-size="11.2" fill="#000" text-anchor="middle">&gt; 10X</text>
<text x="414" y="44.2" font-size="10.9" fill="#000" text-anchor="middle">Median</text>
<ellipse cx="352.0" cy="255.0" rx="3.0" ry="2.8" fill="#2b4a78" stroke="#0d1a33" stroke-width="1.0"/>
<text x="361.4" y="259.4" font-size="10.5" fill="#000">Intact <tspan font-style="italic">CRLF2</tspan></text>
<ellipse cx="352.0" cy="273.0" rx="3.0" ry="2.8" fill="#e3101c" stroke="#600808" stroke-width="1.0"/>
<text x="361.4" y="277.4" font-size="10.5" fill="#000">Disrupted <tspan font-style="italic">CRLF2</tspan></text>
<path d="M352.0,288.4 L355.2,294.0 L348.8,294.0 Z" fill="#f4f000" stroke="#3e3c00" stroke-width="0.9" stroke-linejoin="miter"/>
<text x="361.4" y="295.4" font-size="10.5" fill="#000">Altered <tspan font-style="italic">IKZF1</tspan></text>
<line x1="4.0" y1="380.5" x2="466.0" y2="380.5" stroke="#bababa" stroke-width="1.5"/>
<line x1="4.0" y1="541.0" x2="466.0" y2="541.0" stroke="#bababa" stroke-width="1.5"/>
<line x1="4.0" y1="700.4" x2="469.0" y2="700.4" stroke="#b0b0b0" stroke-width="1.5"/>
<line x1="466.0" y1="380.4" x2="466.0" y2="703.9" stroke="#b0b0b0" stroke-width="1.5"/>
<line x1="466.0" y1="380.4" x2="469.5" y2="380.4" stroke="#b0b0b0" stroke-width="1.4"/>
<text x="475.2" y="384.5" font-size="11.2" fill="#404040">10000</text>
<line x1="466.0" y1="540.4" x2="469.5" y2="540.4" stroke="#b0b0b0" stroke-width="1.4"/>
<text x="475.2" y="544.5" font-size="11.2" fill="#404040">1000</text>
<line x1="466.0" y1="700.4" x2="469.5" y2="700.4" stroke="#b0b0b0" stroke-width="1.4"/>
<text x="475.2" y="704.5" font-size="11.2" fill="#404040">100</text>
<line x1="466.0" y1="700.4" x2="466.0" y2="703.9" stroke="#b0b0b0" stroke-width="1.4"/>
<text x="465.6" y="720.2" font-size="11" fill="#404040" text-anchor="middle">0</text>
<line x1="386.5" y1="700.4" x2="386.5" y2="703.9" stroke="#b0b0b0" stroke-width="1.4"/>
<text x="386.1" y="720.2" font-size="11" fill="#404040" text-anchor="middle">5</text>
<line x1="307.0" y1="700.4" x2="307.0" y2="703.9" stroke="#b0b0b0" stroke-width="1.4"/>
<text x="306.6" y="720.2" font-size="11" fill="#404040" text-anchor="middle">10</text>
<line x1="227.5" y1="700.4" x2="227.5" y2="703.9" stroke="#b0b0b0" stroke-width="1.4"/>
<text x="227.1" y="720.2" font-size="11" fill="#404040" text-anchor="middle">15</text>
<line x1="148.0" y1="700.4" x2="148.0" y2="703.9" stroke="#b0b0b0" stroke-width="1.4"/>
<text x="147.6" y="720.2" font-size="11" fill="#404040" text-anchor="middle">20</text>
<line x1="68.5" y1="700.4" x2="68.5" y2="703.9" stroke="#b0b0b0" stroke-width="1.4"/>
<text x="68.1" y="720.2" font-size="11" fill="#404040" text-anchor="middle">25</text>
<text x="239.8" y="740.2" font-size="10.7" fill="#000" text-anchor="middle">Rank</text>
<text transform="translate(515.5,534.8) rotate(-90)" font-size="11.1" fill="#000" text-anchor="middle"><tspan font-style="italic">CRLF2</tspan> Intensity</text>
<text x="30.8" y="404.2" font-size="25" font-weight="bold" fill="#000">B</text>
<path d="M36.7,516.0 L40.8,519.6 L36.7,523.2 L32.6,519.6 Z" fill="#5b87c6" stroke="#22324f" stroke-width="0.9"/>
<path d="M68.5,514.8 L72.6,518.4 L68.5,522.0 L64.4,518.4 Z" fill="#5b87c6" stroke="#22324f" stroke-width="0.9"/>
<path d="M84.4,514.8 L88.5,518.4 L84.4,522.0 L80.3,518.4 Z" fill="#5b87c6" stroke="#22324f" stroke-width="0.9"/>
<path d="M116.2,505.4 L120.3,509.0 L116.2,512.6 L112.1,509.0 Z" fill="#5b87c6" stroke="#22324f" stroke-width="0.9"/>
<path d="M148.0,492.4 L152.1,496.0 L148.0,499.6 L143.9,496.0 Z" fill="#5b87c6" stroke="#22324f" stroke-width="0.9"/>
<path d="M179.8,477.6 L183.9,481.2 L179.8,484.8 L175.7,481.2 Z" fill="#f27b2c" stroke="#5a3010" stroke-width="0.9"/>
<path d="M211.6,475.4 L215.7,479.0 L211.6,482.6 L207.5,479.0 Z" fill="#5b87c6" stroke="#22324f" stroke-width="0.9"/>
<path d="M243.4,472.4 L247.5,476.0 L243.4,479.6 L239.3,476.0 Z" fill="#f27b2c" stroke="#5a3010" stroke-width="0.9"/>
<path d="M259.3,470.0 L263.4,473.6 L259.3,477.2 L255.2,473.6 Z" fill="#5b87c6" stroke="#22324f" stroke-width="0.9"/>
<path d="M275.2,469.4 L279.3,473.0 L275.2,476.6 L271.1,473.0 Z" fill="#5b87c6" stroke="#22324f" stroke-width="0.9"/>
<path d="M307.0,468.8 L311.1,472.4 L307.0,476.0 L302.9,472.4 Z" fill="#5b87c6" stroke="#22324f" stroke-width="0.9"/>
<path d="M338.8,440.0 L342.9,443.6 L338.8,447.2 L334.7,443.6 Z" fill="#5b87c6" stroke="#22324f" stroke-width="0.9"/>
<path d="M354.7,434.0 L358.8,437.6 L354.7,441.2 L350.6,437.6 Z" fill="#5b87c6" stroke="#22324f" stroke-width="0.9"/>
<path d="M370.6,425.8 L374.7,429.4 L370.6,433.0 L366.5,429.4 Z" fill="#5b87c6" stroke="#22324f" stroke-width="0.9"/>
<path d="M386.5,421.4 L390.6,425.0 L386.5,428.6 L382.4,425.0 Z" fill="#5b87c6" stroke="#22324f" stroke-width="0.9"/>
<path d="M402.4,407.4 L406.5,411.0 L402.4,414.6 L398.3,411.0 Z" fill="#5b87c6" stroke="#22324f" stroke-width="0.9"/>
<path d="M418.3,406.8 L422.4,410.4 L418.3,414.0 L414.2,410.4 Z" fill="#5b87c6" stroke="#22324f" stroke-width="0.9"/>
<path d="M434.2,400.0 L438.3,403.6 L434.2,407.2 L430.1,403.6 Z" fill="#5b87c6" stroke="#22324f" stroke-width="0.9"/>
<path d="M20.8,542.9 L25.3,551.1 L16.3,551.1 Z" fill="#f4f000" stroke="#3e3c00" stroke-width="0.9" stroke-linejoin="miter"/>
<path d="M36.7,530.9 L41.2,539.1 L32.2,539.1 Z" fill="#f4f000" stroke="#3e3c00" stroke-width="0.9" stroke-linejoin="miter"/>
<path d="M52.6,530.3 L57.1,538.5 L48.1,538.5 Z" fill="#f4f000" stroke="#3e3c00" stroke-width="0.9" stroke-linejoin="miter"/>
<path d="M84.4,529.9 L88.9,538.1 L79.9,538.1 Z" fill="#f4f000" stroke="#3e3c00" stroke-width="0.9" stroke-linejoin="miter"/>
<path d="M116.2,520.3 L120.7,528.5 L111.7,528.5 Z" fill="#f4f000" stroke="#3e3c00" stroke-width="0.9" stroke-linejoin="miter"/>
<path d="M132.1,514.9 L136.6,523.1 L127.6,523.1 Z" fill="#f4f000" stroke="#3e3c00" stroke-width="0.9" stroke-linejoin="miter"/>
<path d="M148.0,506.9 L152.5,515.1 L143.5,515.1 Z" fill="#f4f000" stroke="#3e3c00" stroke-width="0.9" stroke-linejoin="miter"/>
<path d="M163.9,499.5 L168.4,507.7 L159.4,507.7 Z" fill="#f4f000" stroke="#3e3c00" stroke-width="0.9" stroke-linejoin="miter"/>
<path d="M195.7,491.7 L200.2,499.9 L191.2,499.9 Z" fill="#f4f000" stroke="#3e3c00" stroke-width="0.9" stroke-linejoin="miter"/>
<path d="M211.6,490.9 L216.1,499.1 L207.1,499.1 Z" fill="#f4f000" stroke="#3e3c00" stroke-width="0.9" stroke-linejoin="miter"/>
<path d="M227.5,487.9 L232.0,496.1 L223.0,496.1 Z" fill="#f4f000" stroke="#3e3c00" stroke-width="0.9" stroke-linejoin="miter"/>
<path d="M259.3,484.9 L263.8,493.1 L254.8,493.1 Z" fill="#f4f000" stroke="#3e3c00" stroke-width="0.9" stroke-linejoin="miter"/>
<path d="M275.2,484.9 L279.7,493.1 L270.7,493.1 Z" fill="#f4f000" stroke="#3e3c00" stroke-width="0.9" stroke-linejoin="miter"/>
<path d="M291.1,484.1 L295.6,492.3 L286.6,492.3 Z" fill="#f4f000" stroke="#3e3c00" stroke-width="0.9" stroke-linejoin="miter"/>
<path d="M307.0,483.5 L311.5,491.7 L302.5,491.7 Z" fill="#f4f000" stroke="#3e3c00" stroke-width="0.9" stroke-linejoin="miter"/>
<path d="M322.9,458.5 L327.4,466.7 L318.4,466.7 Z" fill="#f4f000" stroke="#3e3c00" stroke-width="0.9" stroke-linejoin="miter"/>
<path d="M338.8,454.3 L343.3,462.5 L334.3,462.5 Z" fill="#f4f000" stroke="#3e3c00" stroke-width="0.9" stroke-linejoin="miter"/>
<path d="M354.7,447.9 L359.2,456.1 L350.2,456.1 Z" fill="#f4f000" stroke="#3e3c00" stroke-width="0.9" stroke-linejoin="miter"/>
<path d="M370.6,440.3 L375.1,448.5 L366.1,448.5 Z" fill="#f4f000" stroke="#3e3c00" stroke-width="0.9" stroke-linejoin="miter"/>
<path d="M386.5,435.9 L391.0,444.1 L382.0,444.1 Z" fill="#f4f000" stroke="#3e3c00" stroke-width="0.9" stroke-linejoin="miter"/>
<path d="M418.3,421.5 L422.8,429.7 L413.8,429.7 Z" fill="#f4f000" stroke="#3e3c00" stroke-width="0.9" stroke-linejoin="miter"/>
<path d="M434.2,413.9 L438.7,422.1 L429.7,422.1 Z" fill="#f4f000" stroke="#3e3c00" stroke-width="0.9" stroke-linejoin="miter"/>
<path d="M450.1,408.3 L454.6,416.5 L445.6,416.5 Z" fill="#f4f000" stroke="#3e3c00" stroke-width="0.9" stroke-linejoin="miter"/>
<ellipse cx="4.9" cy="561.0" rx="3.1" ry="3.2" fill="#e3101c" stroke="#600808" stroke-width="1.0"/>
<ellipse cx="20.8" cy="538.4" rx="3.1" ry="3.2" fill="#e3101c" stroke="#600808" stroke-width="1.0"/>
<ellipse cx="36.7" cy="527.2" rx="3.1" ry="3.2" fill="#e3101c" stroke="#600808" stroke-width="1.0"/>
<ellipse cx="52.6" cy="526.0" rx="3.1" ry="3.2" fill="#e3101c" stroke="#600808" stroke-width="1.0"/>
<ellipse cx="68.5" cy="526.0" rx="3.1" ry="3.2" fill="#e3101c" stroke="#600808" stroke-width="1.0"/>
<ellipse cx="84.4" cy="526.0" rx="3.1" ry="3.2" fill="#e3101c" stroke="#600808" stroke-width="1.0"/>
<ellipse cx="100.3" cy="525.6" rx="3.1" ry="3.2" fill="#e3101c" stroke="#600808" stroke-width="1.0"/>
<ellipse cx="116.2" cy="516.0" rx="3.1" ry="3.2" fill="#e3101c" stroke="#600808" stroke-width="1.0"/>
<ellipse cx="132.1" cy="510.4" rx="3.1" ry="3.2" fill="#e3101c" stroke="#600808" stroke-width="1.0"/>
<ellipse cx="148.0" cy="503.0" rx="3.1" ry="3.2" fill="#e3101c" stroke="#600808" stroke-width="1.0"/>
<ellipse cx="163.9" cy="495.6" rx="3.1" ry="3.2" fill="#e3101c" stroke="#600808" stroke-width="1.0"/>
<ellipse cx="179.8" cy="488.4" rx="3.1" ry="3.2" fill="#e3101c" stroke="#600808" stroke-width="1.0"/>
<ellipse cx="195.7" cy="487.6" rx="3.1" ry="3.2" fill="#e3101c" stroke="#600808" stroke-width="1.0"/>
<ellipse cx="211.6" cy="487.0" rx="3.1" ry="3.2" fill="#e3101c" stroke="#600808" stroke-width="1.0"/>
<ellipse cx="227.5" cy="484.0" rx="3.1" ry="3.2" fill="#e3101c" stroke="#600808" stroke-width="1.0"/>
<ellipse cx="243.4" cy="482.4" rx="3.1" ry="3.2" fill="#e3101c" stroke="#600808" stroke-width="1.0"/>
<ellipse cx="259.3" cy="481.2" rx="3.1" ry="3.2" fill="#e3101c" stroke="#600808" stroke-width="1.0"/>
<ellipse cx="275.2" cy="481.0" rx="3.1" ry="3.2" fill="#e3101c" stroke="#600808" stroke-width="1.0"/>
<ellipse cx="291.1" cy="480.0" rx="3.1" ry="3.2" fill="#e3101c" stroke="#600808" stroke-width="1.0"/>
<ellipse cx="307.0" cy="479.6" rx="3.1" ry="3.2" fill="#e3101c" stroke="#600808" stroke-width="1.0"/>
<ellipse cx="322.9" cy="455.0" rx="3.1" ry="3.2" fill="#e3101c" stroke="#600808" stroke-width="1.0"/>
<ellipse cx="338.8" cy="450.6" rx="3.1" ry="3.2" fill="#e3101c" stroke="#600808" stroke-width="1.0"/>
<ellipse cx="354.7" cy="444.6" rx="3.1" ry="3.2" fill="#e3101c" stroke="#600808" stroke-width="1.0"/>
<ellipse cx="370.6" cy="436.8" rx="3.1" ry="3.2" fill="#e3101c" stroke="#600808" stroke-width="1.0"/>
<ellipse cx="386.5" cy="432.4" rx="3.1" ry="3.2" fill="#e3101c" stroke="#600808" stroke-width="1.0"/>
<ellipse cx="402.4" cy="418.4" rx="3.1" ry="3.2" fill="#e3101c" stroke="#600808" stroke-width="1.0"/>
<ellipse cx="418.3" cy="417.6" rx="3.1" ry="3.2" fill="#e3101c" stroke="#600808" stroke-width="1.0"/>
<ellipse cx="434.2" cy="410.4" rx="3.1" ry="3.2" fill="#e3101c" stroke="#600808" stroke-width="1.0"/>
<ellipse cx="450.1" cy="405.0" rx="3.1" ry="3.2" fill="#e3101c" stroke="#600808" stroke-width="1.0"/>
<path d="M342.0,622.0 L345.2,625.0 L342.0,628.0 L338.8,625.0 Z" fill="#f27b2c" stroke="#5a3010" stroke-width="0.9"/>
<text x="353" y="629.6" font-size="11" fill="#000"><tspan font-style="italic">JAK1</tspan> mutations</text>
<path d="M342.0,639.3 L345.2,642.3 L342.0,645.3 L338.8,642.3 Z" fill="#5b87c6" stroke="#22324f" stroke-width="0.9"/>
<text x="353" y="646.4" font-size="11" fill="#000"><tspan font-style="italic">JAK2</tspan> mutations</text>
<path d="M342.0,656.7 L345.3,662.5 L338.7,662.5 Z" fill="#f4f000" stroke="#3e3c00" stroke-width="0.9" stroke-linejoin="miter"/>
<text x="353" y="663.6" font-size="11" fill="#000">Altered <tspan font-style="italic">IKZF1</tspan></text>
<ellipse cx="342.0" cy="677.0" rx="3.2" ry="3.0" fill="#e3101c" stroke="#600808" stroke-width="1.0"/>
<text x="352.6" y="681" font-size="11.1" fill="#000">Disrupted <tspan font-style="italic">CRLF2</tspan></text>
</svg>
</body></html>
